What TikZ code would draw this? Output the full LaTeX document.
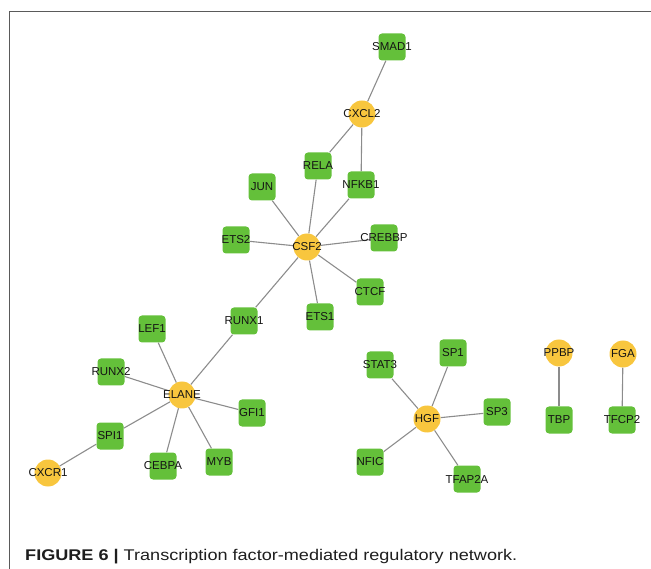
\documentclass[tikz,border=0pt]{standalone}
\usepackage{fontspec}
\setmainfont{Liberation Sans}
\usepackage{graphicx}
\usetikzlibrary{backgrounds}
\definecolor{tfgreen}{RGB}{100,192,58}
\definecolor{geneyellow}{RGB}{248,198,62}
\definecolor{edgegray}{RGB}{140,140,140}
\definecolor{framegray}{RGB}{90,90,90}
\definecolor{labeltext}{RGB}{20,20,20}
\definecolor{captext}{RGB}{30,30,30}
\tikzset{
  tfbox/.style={rectangle, rounded corners=3.5pt, fill=tfgreen, minimum size=27pt, inner sep=0pt,
    label={[labelfont]center:#1}},
  genecirc/.style={circle, fill=geneyellow, minimum size=27pt, inner sep=0pt,
    label={[labelfont]center:#1}},
  labelfont/.style={font=\fontsize{11.5}{13}\selectfont, text=labeltext, inner sep=0pt},
  link/.style={draw=edgegray, line width=1.1pt},
  framestyle/.style={draw=framegray, line width=1pt}
}
\begin{document}
\begin{tikzpicture}[x=1pt, y=-1pt]
\useasboundingbox (0,0) rectangle (651,569);
\coordinate (frameTL) at (9,12);
\coordinate (frameTR) at (651,12);
\coordinate (frameBL) at (9,569);
\draw[framestyle] (frameBL) -- (frameTL) -- (frameTR);

% CSF2 / CXCL2 cluster
\node[tfbox=SMAD1] (SMAD1) at (392,47) {};
\node[genecirc=CXCL2] (CXCL2) at (362,114) {};
\node[tfbox=RELA] (RELA) at (318,166) {};
\node[tfbox=NFKB1] (NFKB1) at (361,185) {};
\node[tfbox=JUN] (JUN) at (262,187) {};
\node[genecirc=CSF2] (CSF2) at (307,247) {};
\node[tfbox=ETS2] (ETS2) at (236,240) {};
\node[tfbox=CREBBP] (CREBBP) at (384,238) {};
\node[tfbox=CTCF] (CTCF) at (370,292) {};
\node[tfbox=ETS1] (ETS1) at (320,317) {};
\node[tfbox=RUNX1] (RUNX1) at (244,321) {};

% ELANE cluster
\node[tfbox=LEF1] (LEF1) at (152,329) {};
\node[tfbox=RUNX2] (RUNX2) at (111,372) {};
\node[genecirc=ELANE] (ELANE) at (182,395) {};
\node[tfbox=GFI1] (GFI1) at (252,413) {};
\node[tfbox=SPI1] (SPI1) at (110,436) {};
\node[genecirc=CXCR1] (CXCR1) at (48,473) {};
\node[tfbox=CEBPA] (CEBPA) at (163,466) {};
\node[tfbox=MYB] (MYB) at (219,462) {};

% HGF cluster
\node[tfbox=STAT3] (STAT3) at (380,365) {};
\node[tfbox=SP1] (SP1) at (453,353) {};
\node[genecirc=HGF] (HGF) at (427,419) {};
\node[tfbox=SP3] (SP3) at (497,412) {};
\node[tfbox=NFIC] (NFIC) at (370,462) {};
\node[tfbox=TFAP2A] (TFAP2A) at (467,479) {};

% pairs
\node[genecirc=PPBP] (PPBP) at (559,353) {};
\node[tfbox=TBP] (TBP) at (559,420) {};
\node[genecirc=FGA] (FGA) at (623,354) {};
\node[tfbox=TFCP2] (TFCP2) at (622,420) {};

\begin{scope}[on background layer]
\draw[link] (SMAD1) -- (CXCL2);
\draw[link] (CXCL2) -- (RELA);
\draw[link] (CXCL2) -- (NFKB1);
\draw[link] (RELA) -- (CSF2);
\draw[link] (NFKB1) -- (CSF2);
\draw[link] (JUN) -- (CSF2);
\draw[link] (ETS2) -- (CSF2);
\draw[link] (CREBBP) -- (CSF2);
\draw[link] (CTCF) -- (CSF2);
\draw[link] (ETS1) -- (CSF2);
\draw[link] (RUNX1) -- (CSF2);
\draw[link] (RUNX1) -- (ELANE);
\draw[link] (LEF1) -- (ELANE);
\draw[link] (RUNX2) -- (ELANE);
\draw[link] (GFI1) -- (ELANE);
\draw[link] (MYB) -- (ELANE);
\draw[link] (CEBPA) -- (ELANE);
\draw[link] (SPI1) -- (ELANE);
\draw[link] (SPI1) -- (CXCR1);
\draw[link] (STAT3) -- (HGF);
\draw[link] (SP1) -- (HGF);
\draw[link] (SP3) -- (HGF);
\draw[link] (NFIC) -- (HGF);
\draw[link] (TFAP2A) -- (HGF);
\draw[link] (PPBP) -- (TBP);
\draw[link] (FGA) -- (TFCP2);
\end{scope}

\node[anchor=base west, inner sep=0pt, text=captext] (caption) at (25,560)
  {\resizebox{492pt}{\height}{\fontsize{15.5}{18}\selectfont\textbf{FIGURE 6 |} Transcription factor-mediated regulatory network.}};
\end{tikzpicture}
\end{document}
